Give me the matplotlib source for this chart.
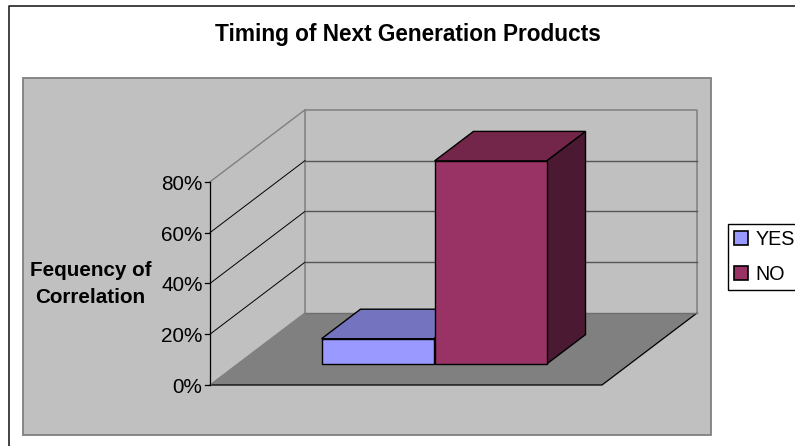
import matplotlib
matplotlib.use("Agg")
import matplotlib.pyplot as plt
from matplotlib.patches import Patch, Polygon, Rectangle

series_names = ["YES", "NO"]
series_values = [10, 80]
front_colors = ["#9999FF", "#993366"]
top_colors = ["#7373BF", "#732649"]
side_colors = ["#5C5C99", "#4C1933"]
tick_values = [0, 20, 40, 60, 80]
tick_labels = ["0%", "20%", "40%", "60%", "80%"]

# oblique projection of the 3D box, in figure pixels
ORIGIN_X, ORIGIN_Y = 210.0, 385.0
FLOOR_W = 392.0
PX_PER_PCT = 2.54
DEPTH_DX, DEPTH_DY = 95.0, -72.0
BAR_W = 112.0
BAR_START = 84.0
DEPTH_FRONT, DEPTH_BACK = 0.29, 0.70
TOP_VALUE = tick_values[-1]


def project(x, value, depth):
    return (ORIGIN_X + x + depth * DEPTH_DX,
            ORIGIN_Y - value * PX_PER_PCT + depth * DEPTH_DY)


def px(size):
    return size * 72 / 100


plt.rcParams["font.family"] = ["Liberation Sans", "DejaVu Sans"]

fig = plt.figure(figsize=(7.95, 4.46), dpi=100)
ax = fig.add_axes([0, 0, 1, 1])
ax.set_xlim(0, 795)
ax.set_ylim(446, 0)
ax.axis("off")

# outer chart frame runs off the right and bottom of the canvas
ax.plot([8.5, 8.5, 800], [450, 5.5, 5.5], color="#222222", lw=1.2, zorder=1)

ax.add_patch(Rectangle((22.5, 78), 688, 357, facecolor="#C0C0C0",
                       edgecolor="#808080", lw=1.3, zorder=1))

# floor
floor = [project(0, 0, 0), project(FLOOR_W, 0, 0), project(FLOOR_W, 0, 1), project(0, 0, 1)]
ax.add_patch(Polygon(floor, closed=True, facecolor="#808080", edgecolor="none", zorder=2))
ax.plot(*zip(project(0, 0, 0), project(FLOOR_W, 0, 0), project(FLOOR_W, 0, 1)),
        color="black", lw=0.9, zorder=2)

# walls: back edge, side edge and the gridlines wrapping around them
back_edge = [project(0, 0, 1), project(0, TOP_VALUE, 1), project(FLOOR_W, TOP_VALUE, 1),
             project(FLOOR_W, 0, 1)]
ax.plot(*zip(*back_edge), color="#808080", lw=1.1, zorder=2)
ax.plot(*zip(project(0, 0, 1), project(FLOOR_W, 0, 1)), color="#6E6E6E", lw=1.0, zorder=2)
ax.plot(*zip(project(0, 0, 0), project(0, 0, 1)), color="#808080", lw=1.0, zorder=2)
ax.plot(*zip(project(0, TOP_VALUE, 0), project(0, TOP_VALUE, 1)), color="#808080", lw=1.0, zorder=2)
for value in tick_values[1:-1]:
    ax.plot(*zip(project(0, value, 0), project(0, value, 1)), color="black", lw=0.7, zorder=2)
    ax.plot(*zip(project(0, value, 1), project(FLOOR_W, value, 1)), color="#555555", lw=1.0, zorder=2)

# value axis
ax.plot(*zip(project(0, 0, 0), project(0, TOP_VALUE, 0)), color="black", lw=0.9, zorder=3)
for value, label in zip(tick_values, tick_labels):
    x, y = project(0, value, 0)
    ax.plot([x - 5, x], [y, y], color="black", lw=0.9, zorder=3)
    ax.text(x - 7.5, y + 2.5, label, ha="right", va="center", fontsize=px(20.8), color="black")

# bars, back to front by series order
for i, value in enumerate(series_values):
    x0 = BAR_START + i * (BAR_W + 1)
    x1 = x0 + BAR_W
    a = project(x0, 0, DEPTH_FRONT)
    b = project(x1, 0, DEPTH_FRONT)
    c = project(x1, value, DEPTH_FRONT)
    d = project(x0, value, DEPTH_FRONT)
    e = project(x1, value, DEPTH_BACK)
    f = project(x0, value, DEPTH_BACK)
    g = project(x1, 0, DEPTH_BACK)
    z = 4 + i
    ax.add_patch(Polygon([b, g, e, c], closed=True, facecolor=side_colors[i],
                         edgecolor="black", lw=1.0, zorder=z))
    ax.add_patch(Polygon([d, c, e, f], closed=True, facecolor=top_colors[i],
                         edgecolor="black", lw=1.0, zorder=z))
    ax.add_patch(Polygon([a, b, c, d], closed=True, facecolor=front_colors[i],
                         edgecolor="black", lw=1.0, zorder=z))

ax.text(408, 34.5, "Timing of Next Generation Products", ha="center", va="center",
        fontsize=px(22.6), fontweight="bold", color="black")
ax.text(90.5, 284, "Fequency of\nCorrelation", ha="center", va="center",
        fontsize=px(20.7), fontweight="bold", color="black", linespacing=1.55)

handles = [Patch(facecolor=c, edgecolor="black", lw=1.2) for c in front_colors]
ax.legend(handles, series_names, loc="upper left", bbox_to_anchor=(727.5, 223.5),
          bbox_transform=ax.transData, borderaxespad=0, fontsize=px(19.8), fancybox=False,
          framealpha=1, edgecolor="black", handlelength=0.68, handleheight=0.68,
          handletextpad=0.38, borderpad=0.34, labelspacing=0.78)

fig.savefig("out.png", dpi=100)
